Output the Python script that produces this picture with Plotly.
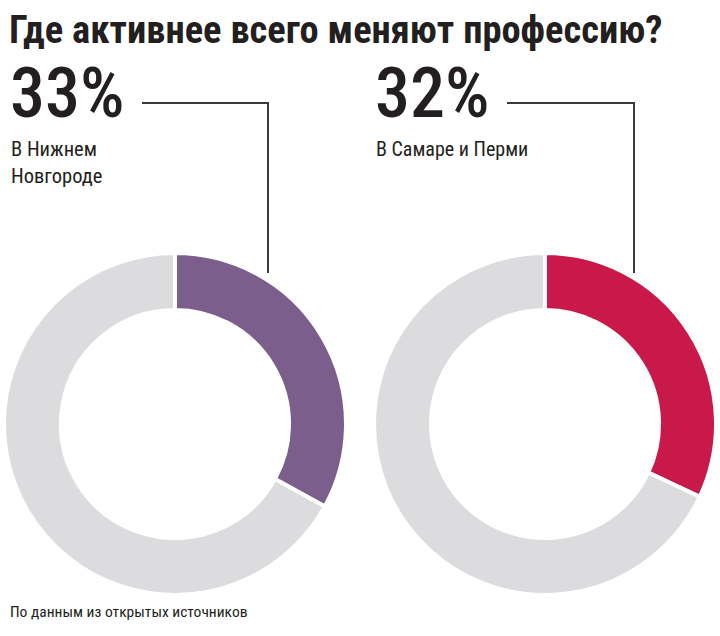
import plotly.graph_objects as go

title = "Где активнее всего меняют профессию?"
cities = ["В Нижнем<br>Новгороде", "В Самаре и Перми"]
shares = [33, 32]
colors = ["#7B5E8C", "#C8194A"]
rest_color = "#DCDCDE"
source = "По данным из открытых источников"

W, H = 720, 636
fig = go.Figure()

domains = [(4, 346), (374, 716)]
ytop, ybot = 253, 595
for i, (s, c) in enumerate(zip(shares, colors)):
    x0, x1 = domains[i]
    fig.add_trace(go.Pie(
        values=[s, 100 - s],
        labels=["share", "rest"],
        marker=dict(colors=[c, rest_color], line=dict(color="white", width=4)),
        hole=0.667,
        sort=False,
        direction="clockwise",
        rotation=0,
        textinfo="none",
        hoverinfo="skip",
        showlegend=False,
        domain=dict(x=[x0 / W, x1 / W], y=[(H - ybot) / H, (H - ytop) / H]),
    ))

font_c = "Roboto Condensed, Liberation Sans Narrow, Arial Narrow, sans-serif"
txt = "#231F20"
ann = [
    dict(x=8 / W, y=1 - 6 / H, text=f"<b>{title}</b>", xanchor="left", yanchor="top",
         font=dict(size=38.5, family=font_c, color=txt)),
    dict(x=9 / W, y=1 - 135 / H, text=f"{shares[0]}%", xanchor="left", yanchor="bottom",
         font=dict(size=70, family=font_c, color=txt, weight=500)),
    dict(x=10 / W, y=1 - 136 / H, text=cities[0], xanchor="left", yanchor="top", align="left",
         font=dict(size=20.5, family=font_c, color=txt)),
    dict(x=374 / W, y=1 - 135 / H, text=f"{shares[1]}%", xanchor="left", yanchor="bottom",
         font=dict(size=70, family=font_c, color=txt, weight=500)),
    dict(x=375 / W, y=1 - 136 / H, text=cities[1], xanchor="left", yanchor="top", align="left",
         font=dict(size=20, family=font_c, color=txt)),
    dict(x=9 / W, y=1 - 612 / H, text=source, xanchor="left", yanchor="middle",
         font=dict(size=15.5, family=font_c, color=txt)),
]
for a in ann:
    a.update(xref="paper", yref="paper", showarrow=False, borderpad=0)

line = dict(color="#3a3a3a", width=2)
shapes = [
    dict(type="path", path="M 142 103 L 268 103 L 268 273", line=line),
    dict(type="path", path="M 507 103 L 634 103 L 634 273", line=line),
]
for s in shapes:
    s.update(xref="x", yref="y")

fig.update_layout(
    width=W, height=H,
    margin=dict(l=0, r=0, t=0, b=0),
    paper_bgcolor="white", plot_bgcolor="white",
    annotations=ann, shapes=shapes,
    xaxis=dict(range=[0, W], visible=False, fixedrange=True),
    yaxis=dict(range=[H, 0], visible=False, fixedrange=True),
)
fig.write_html("out.html")
